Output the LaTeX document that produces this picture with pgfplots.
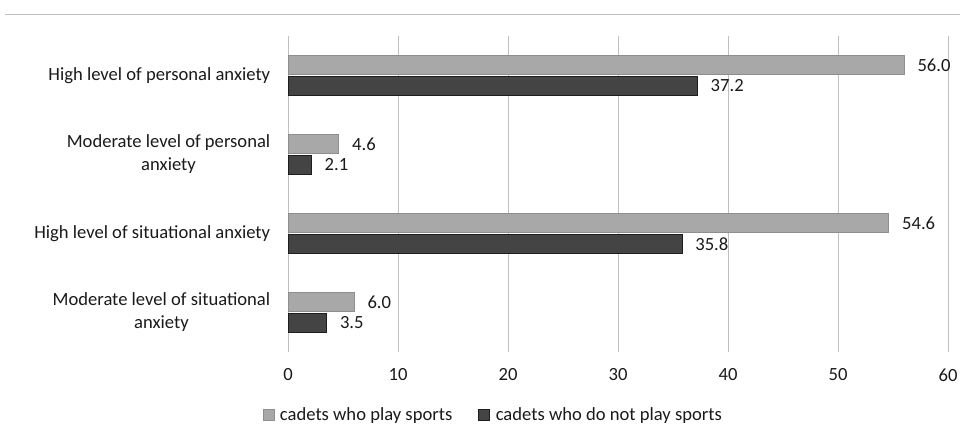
\documentclass[border=0pt]{standalone}
\usepackage{pgfplots}
\pgfplotsset{compat=1.18}
\usepackage{fontspec}
\setmainfont{Carlito}
\definecolor{lightbar}{HTML}{A8A8A8}
\definecolor{lightedge}{HTML}{8E8E8E}
\definecolor{darkbar}{HTML}{444444}
\definecolor{darkedge}{HTML}{1E1E1E}
\definecolor{gridc}{HTML}{BFBFBF}
\definecolor{txt}{HTML}{1A1A1A}
\begin{document}
\begin{tikzpicture}[x=1pt,y=1pt]
\useasboundingbox (0,0) rectangle (960,426);
\draw[color=gridc, line width=1pt] (5,411) -- (960,411);
\begin{axis}[
  at={(288pt,74pt)}, anchor=south west,
  scale only axis, width=660pt, height=316pt,
  xmin=0, xmax=60, ymin=-0.5, ymax=3.5,
  y dir=reverse,
  xbar, bar width=19pt,
  xtick={0,10,20,30,40,50,60},
  ytick={0,1,2,3},
  yticklabels={High level of personal anxiety, {Moderate level of personal\\anxiety}, High level of situational anxiety, {Moderate level of situational\\anxiety}},
  yticklabel style={align=center, font=\fontsize{18.6}{23}\selectfont, text=txt, xshift=-10pt},
  xticklabel style={font=\fontsize{18.6}{23}\selectfont, text=txt, yshift=-13pt},
  /pgf/number format/assume math mode=true,
  xmajorgrids, major grid style={color=gridc, line width=1pt},
  axis line style={draw=none},
  major tick style={draw=none},
  clip=false,
  nodes near coords,
  every node near coord/.append style={font=\fontsize{18.6}{23}\selectfont, text=txt, xshift=10pt, /pgf/number format/.cd, fixed, fixed zerofill, precision=1},
  legend columns=2,
  legend style={at={(0.311,-0.198)}, anchor=center, draw=none, fill=none, font=\fontsize{18.6}{23}\selectfont, text=txt, /tikz/every even column/.append style={column sep=24pt}, /tikz/every odd column/.append style={column sep=4pt}},
  legend image code/.code={\fill[#1] (0pt,-5.5pt) rectangle (11pt,5.5pt);},
]
\addplot[fill=lightbar, draw=lightedge, bar shift=10.5pt] coordinates {(56.0,0) (4.6,1) (54.6,2) (6.0,3)};
\addplot[fill=darkbar, draw=darkedge, bar shift=-10.5pt] coordinates {(37.2,0) (2.1,1) (35.8,2) (3.5,3)};
\legend{cadets who play sports, cadets who do not play sports}
\end{axis}
\end{tikzpicture}
\end{document}
